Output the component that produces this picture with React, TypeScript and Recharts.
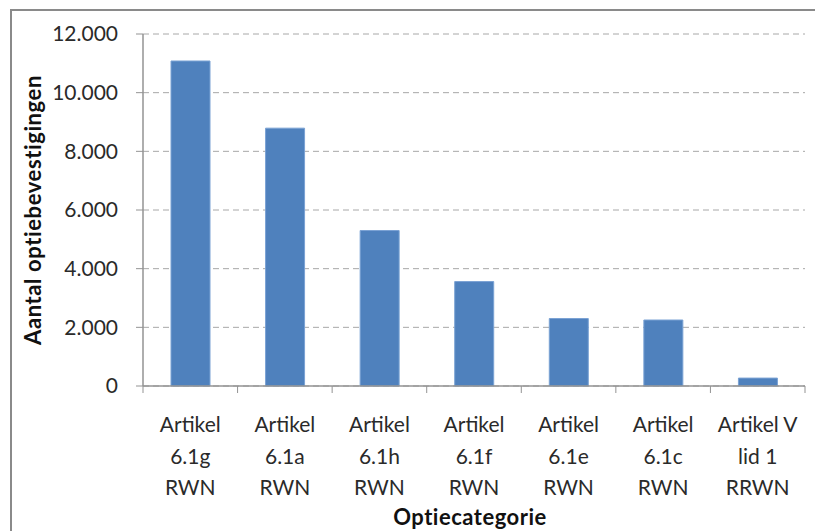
import { BarChart, Bar, XAxis, YAxis, CartesianGrid } from "recharts"

const categories = [
  "Artikel\n6.1g\nRWN",
  "Artikel\n6.1a\nRWN",
  "Artikel\n6.1h\nRWN",
  "Artikel\n6.1f\nRWN",
  "Artikel\n6.1e\nRWN",
  "Artikel\n6.1c\nRWN",
  "Artikel V\nlid 1\nRRWN",
]
const counts = [11080, 8790, 5300, 3560, 2300, 2250, 270]
const yTicks = [0, 2000, 4000, 6000, 8000, 10000, 12000]

const FONT = "Lato, 'Open Sans', sans-serif"
const AXIS = "#939393"

const data = categories.map((c, i) => ({ name: c, value: counts[i] }))

// Dutch thousands separator: 12000 -> 12.000
const fmt = (v: number) => String(v).replace(/\B(?=(\d{3})+(?!\d))/g, ".")

function CategoryTick(props: any) {
  const { x, y, payload, index } = props
  const half = payload.offset ?? 47
  const lines = String(payload.value).split("\n")
  return (
    <g>
      <line x1={x - half} x2={x - half} y1={y} y2={y + 7} stroke={AXIS} />
      {index === categories.length - 1 && (
        <line x1={x + half} x2={x + half} y1={y} y2={y + 7} stroke={AXIS} />
      )}
      {lines.map((l, i) => (
        <text key={i} x={x} y={y + 46 + i * 31.5} textAnchor="middle"
          fontFamily={FONT} fontSize={21} fill="#2a2a2a">
          {l}
        </text>
      ))}
    </g>
  )
}

function XTitle(props: any) {
  const { x, y, width } = props.viewBox
  return (
    <text x={x + width / 2 - 4} y={y + 139} textAnchor="middle"
      fontFamily={FONT} fontSize={22} letterSpacing={0.5} fontWeight="bold" fill="#111">
      Optiecategorie
    </text>
  )
}

function YTitle(props: any) {
  const { x, y, height } = props.viewBox
  const cx = x + 32
  const cy = y + height / 2
  return (
    <text x={cx} y={cy} textAnchor="middle" dominantBaseline="central"
      transform={`rotate(-90 ${cx} ${cy})`}
      fontFamily={FONT} fontSize={22} letterSpacing={0.6} fontWeight="bold" fill="#111">
      Aantal optiebevestigingen
    </text>
  )
}

export default function App() {
  return (
    <div style={{ position: "absolute", left: 0, top: 0, width: 815, height: 531, overflow: "hidden", background: "#fff" }}>
      <div style={{
        position: "absolute", left: 10, top: 9, width: 900, height: 700,
        borderLeft: "2px solid #8a8a8a", borderTop: "2px solid #8a8a8a",
      }} />
      <div style={{ position: "absolute", left: 0, top: 0 }}>
        <BarChart width={815} height={531} data={data}
          margin={{ top: 34, right: 10, left: 0, bottom: 0 }} barCategoryGap="29%">
          <CartesianGrid vertical={false} stroke="#a8a8a8" strokeDasharray="6 4" />
          <XAxis
            dataKey="name"
            height={145}
            interval={0}
            tickLine={false}
            tickSize={0}
            tickMargin={0}
            axisLine={{ stroke: AXIS, strokeWidth: 1.5 }}
            tick={<CategoryTick />}
            label={<XTitle />}
          />
          <YAxis
            width={143}
            domain={[0, 12000]}
            ticks={yTicks}
            tickFormatter={fmt}
            tickSize={7}
            tickMargin={18}
            axisLine={{ stroke: AXIS, strokeWidth: 1.5 }}
            tickLine={{ stroke: AXIS }}
            tick={{ fontFamily: FONT, fontSize: 21, fill: "#2a2a2a" }}
            label={<YTitle />}
          />
          <Bar dataKey="value" fill="#4f81bd" stroke="#7aa2d4" strokeWidth={1}
            barSize={39} isAnimationActive={false} />
        </BarChart>
      </div>
    </div>
  )
}
